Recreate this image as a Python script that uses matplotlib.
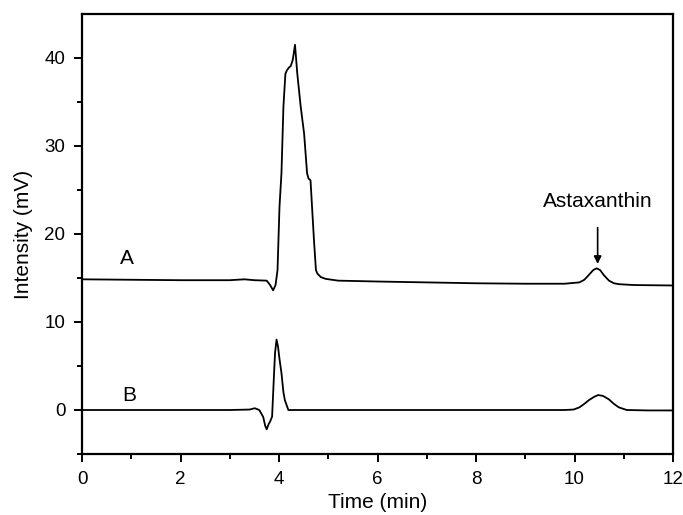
import matplotlib
matplotlib.use("Agg")
import matplotlib.pyplot as plt
import numpy as np

plt.rcParams['font.family'] = ['Liberation Sans', 'DejaVu Sans']

# trace A (upper chromatogram)
timeA = [0.0, 1.0, 2.0, 3.0, 3.3, 3.5, 3.75, 3.82, 3.88, 3.93, 3.97, 4.01, 4.05, 4.09,
         4.13, 4.16, 4.20, 4.24, 4.28, 4.325, 4.37, 4.44, 4.51, 4.57, 4.60, 4.64, 4.71,
         4.75, 4.78, 4.85, 4.95, 5.2, 6.0, 7.0, 8.0, 9.0, 9.8, 10.1, 10.2, 10.3, 10.38,
         10.45, 10.52, 10.6, 10.7, 10.8, 10.9, 11.2, 12.0]
intensityA = [14.85, 14.8, 14.75, 14.75, 14.85, 14.75, 14.7, 14.2, 13.6, 14.2, 15.9, 23.1,
              26.9, 34.5, 38.2, 38.6, 38.9, 39.1, 39.8, 41.5, 38.3, 34.5, 31.4, 26.9, 26.3,
              26.1, 19.3, 15.9, 15.5, 15.1, 14.9, 14.7, 14.6, 14.5, 14.4, 14.35, 14.35,
              14.5, 14.8, 15.4, 15.9, 16.1, 15.9, 15.3, 14.7, 14.4, 14.3, 14.2, 14.15]

# trace B (lower chromatogram)
timeB = [0.0, 1.0, 2.0, 3.0, 3.4, 3.51, 3.6, 3.68, 3.72, 3.75, 3.79, 3.82, 3.86, 3.90,
         3.92, 3.95, 3.98, 4.01, 4.05, 4.09, 4.12, 4.19, 4.5, 6.0, 8.0, 9.8, 9.98, 10.1,
         10.2, 10.3, 10.4, 10.48, 10.58, 10.7, 10.8, 10.9, 11.06, 11.5, 12.0]
intensityB = [0.0, 0.0, 0.0, 0.0, 0.05, 0.2, 0.0, -0.8, -1.8, -2.2, -1.6, -1.3, -0.75,
              4.2, 6.5, 8.0, 7.2, 5.8, 4.2, 2.0, 1.1, 0.0, 0.0, 0.0, 0.0, 0.0, 0.05, 0.3,
              0.7, 1.15, 1.5, 1.7, 1.6, 1.2, 0.7, 0.3, 0.0, -0.05, -0.05]

xTicks = [0, 2, 4, 6, 8, 10, 12]
yTicks = [0, 10, 20, 30, 40]

fig = plt.figure(figsize=(6.83, 5.15), dpi=100)
ax = fig.add_axes([82/683, 61/515, 591/683, 440/515])

ax.plot(timeA, intensityA, color='black', lw=1.3)
ax.plot(timeB, intensityB, color='black', lw=1.3)

ax.set_xlim(0, 12)
ax.set_ylim(-5, 45)
ax.set_xticks(xTicks)
ax.set_xticks(np.arange(1, 12, 2), minor=True)
ax.set_yticks(yTicks)
ax.set_yticks([-5, 5, 15, 25, 35], minor=True)
ax.tick_params(which='major', direction='out', length=6, width=1.4, labelsize=13.5, pad=6)
ax.tick_params(which='minor', direction='out', length=3.5, width=1.4)
for s in ax.spines.values():
    s.set_linewidth(1.6)

ax.set_xlabel("Time (min)", fontsize=15, labelpad=4)
ax.set_ylabel("Intensity (mV)", fontsize=15, labelpad=8)

ax.text(0.92, 17.2, "A", fontsize=15, ha='center', va='center')
ax.text(0.95, 1.6, "B", fontsize=15, ha='center', va='center')
ax.annotate("Astaxanthin", xy=(10.47, 16.6), xytext=(10.47, 23.7),
            ha='center', va='center', fontsize=15,
            arrowprops=dict(arrowstyle='-|>', color='black', lw=1.2,
                            shrinkA=10, shrinkB=0, mutation_scale=11))

fig.savefig("out.png", dpi=100)
